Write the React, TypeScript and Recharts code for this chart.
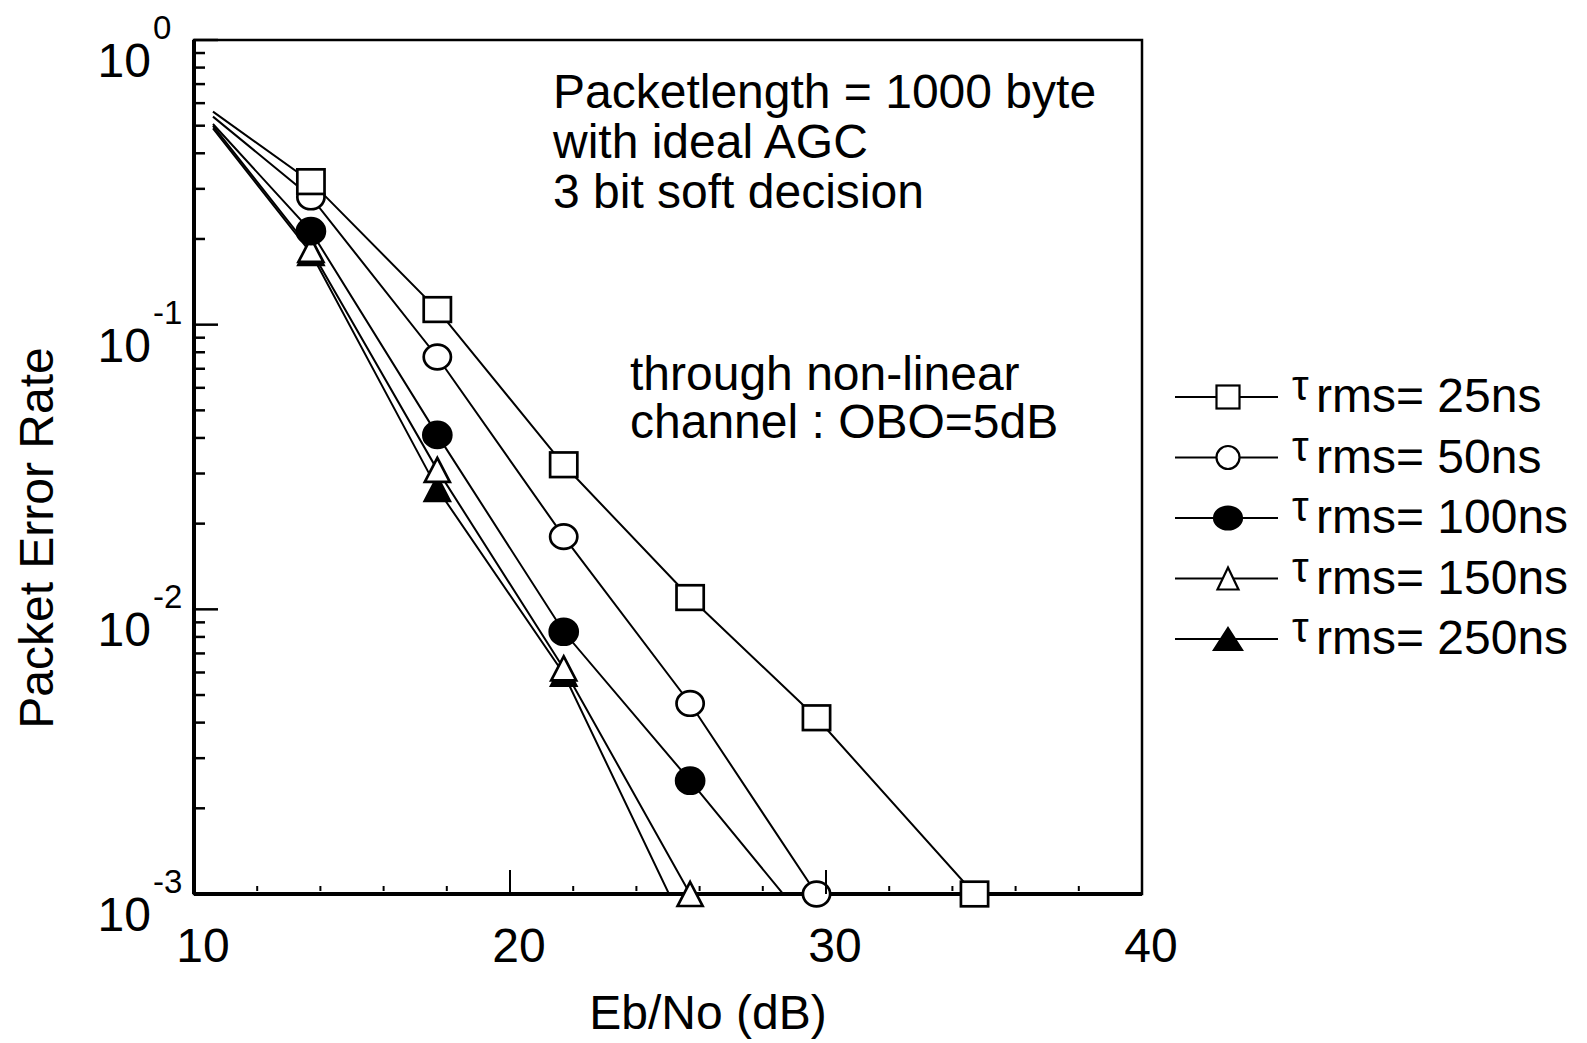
import React from 'react';
import { LineChart, Line, XAxis, YAxis, Legend, ReferenceArea } from 'recharts';

const FONT = '"Liberation Sans", Arial, Helvetica, sans-serif';

const Y_MIN = 0.001;
const Y_MAX = 1;
const X_MIN = 10;
const X_MAX = 40;

// layout (chart coordinates)
const Y_AXIS_WIDTH = 186;
const FS = 48;

// series names (tau_rms) and marker kinds
const seriesNames = ['25ns', '50ns', '100ns', '150ns', '250ns'];
const markerKinds = ['square', 'circle', 'filledCircle', 'triangle', 'filledTriangle'];

// Eb/No (dB) and packet error rate
const ebno25 = [10.6, 13.7, 17.7, 21.7, 25.7, 29.7, 34.7];
const per25 = [0.56, 0.318, 0.113, 0.0322, 0.011, 0.00416, 0.001];
const ebno50 = [10.6, 13.7, 17.7, 21.7, 25.7, 29.7];
const per50 = [0.538, 0.281, 0.077, 0.018, 0.00467, 0.001];
const ebno100 = [10.6, 13.7, 17.7, 21.7, 25.7, 29.7];
const per100 = [0.507, 0.213, 0.041, 0.00834, 0.0025, 0.00072];
const ebno150 = [10.6, 13.7, 17.7, 21.7, 25.7];
const per150 = [0.499, 0.183, 0.0309, 0.0062, 0.001];
const ebno250 = [10.6, 13.7, 17.7, 21.7, 25.7];
const per250 = [0.489, 0.1786, 0.0265, 0.00594, 0.0007];

// ticks
const xTicks = [10, 12, 14, 16, 18, 20, 22, 24, 26, 28, 30, 32, 34, 36, 38, 40];
const xTickLabels = [10, 20, 30, 40];
const xMajorTicks = [20, 30];
const yTicks = [
  0.001, 0.002, 0.003, 0.004, 0.005, 0.006, 0.007, 0.008, 0.009,
  0.01, 0.02, 0.03, 0.04, 0.05, 0.06, 0.07, 0.08, 0.09,
  0.1, 0.2, 0.3, 0.4, 0.5, 0.6, 0.7, 0.8, 0.9,
  1,
];

// annotation texts
const notesTop = ['Packetlength = 1000 byte', 'with ideal AGC', '3 bit soft decision'];
const notesChannel = ['through non-linear', 'channel : OBO=5dB'];
const xTitle = 'Eb/No (dB)';
const yTitle = 'Packet Error Rate';

const xs = [ebno25, ebno50, ebno100, ebno150, ebno250];
const ys = [per25, per50, per100, per150, per250];

const series = seriesNames.map((name, si) => ({
  name,
  kind: markerKinds[si],
  data: xs[si].map((x, i) => ({ x, y: ys[si][i] })),
}));

type Kind = string;

function Marker({ kind, cx, cy, legend }: { kind: Kind; cx: number; cy: number; legend?: boolean }) {
  const sw = legend ? 2.2 : 2.7;
  if (kind === 'square') {
    const hw = legend ? 11.5 : 13.6;
    const hh = legend ? 11.5 : 12.3;
    return <rect x={cx - hw} y={cy - hh} width={hw * 2} height={hh * 2} fill="#fff" stroke="#000" strokeWidth={sw} />;
  }
  if (kind === 'circle') {
    const rx = legend ? 11.5 : 13.6;
    const ry = legend ? 11.5 : 12.3;
    return <ellipse cx={cx} cy={cy} rx={rx} ry={ry} fill="#fff" stroke="#000" strokeWidth={sw} />;
  }
  if (kind === 'filledCircle') {
    const rx = 14;
    const ry = legend ? 11.5 : 13;
    return <ellipse cx={cx} cy={cy} rx={rx} ry={ry} fill="#000" stroke="#000" strokeWidth={sw} />;
  }
  if (kind === 'triangle') {
    const hw = legend ? 10.5 : 12.5;
    const hh = legend ? 11 : 12;
    return (
      <polygon
        points={`${cx},${cy - hh} ${cx + hw},${cy + hh} ${cx - hw},${cy + hh}`}
        fill="#fff"
        stroke="#000"
        strokeWidth={sw}
      />
    );
  }
  const hw = legend ? 14 : 12.5;
  const hh = legend ? 11 : 12;
  return (
    <polygon
      points={`${cx},${cy - hh} ${cx + hw},${cy + hh} ${cx - hw},${cy + hh}`}
      fill="#000"
      stroke="#000"
      strokeWidth={sw}
    />
  );
}

const makeDot = (kind: Kind) => (props: any) => {
  const { cx, cy, index } = props;
  if (cx == null || cy == null || isNaN(cx) || isNaN(cy)) return <g key={`${kind}-e-${index}`} />;
  return <Marker key={`${kind}-${index}`} kind={kind} cx={cx} cy={cy} />;
};

const YTick = (props: any) => {
  const { y, payload } = props;
  const x = Y_AXIS_WIDTH;
  const v = Number(payload.value);
  const e = Math.round(Math.log10(v));
  const major = Math.abs(v / Math.pow(10, e) - 1) < 1e-6;
  return (
    <g>
      <line x1={x} y1={y} x2={x + (major ? 24 : 11)} y2={y} stroke="#000" strokeWidth={2.5} />
      {major && (
        <g>
          <text x={x - 43} y={y + 37} textAnchor="end" fontSize={FS} fontFamily={FONT} fill="#000">
            10
          </text>
          <text x={x - 41} y={y - 1} textAnchor="start" fontSize={33} fontFamily={FONT} fill="#000">
            {String(e)}
          </text>
        </g>
      )}
    </g>
  );
};

const XTick = (props: any) => {
  const { x, y, payload } = props;
  const v = Number(payload.value);
  const labeled = xTickLabels.includes(v);
  const major = xMajorTicks.includes(v);
  const edge = v === X_MIN || v === X_MAX;
  return (
    <g>
      {!edge && (
        <line x1={x} x2={x} y1={y - (major ? 0 : 3)} y2={y - (major ? 24 : 8)} stroke="#000" strokeWidth={2} />
      )}
      {labeled && (
        <text x={x + 9} y={y + 68} textAnchor="middle" fontSize={FS} fontFamily={FONT} fill="#000">
          {String(v)}
        </text>
      )}
    </g>
  );
};

const LegendContent = () => (
  <svg width={430} height={310} style={{ display: 'block', overflow: 'visible' }}>
    {series.map((s, i) => {
      const cy = 37 + i * 60.5;
      return (
        <g key={s.name}>
          <line x1={15} x2={118} y1={cy} y2={cy} stroke="#000" strokeWidth={2} />
          <Marker kind={s.kind} cx={68} cy={cy} legend />
          <text x={132} y={cy + 3} fontSize={42} fontFamily={FONT} fill="#000">
            τ
          </text>
          <text x={156} y={cy + 15} fontSize={FS} fontFamily={FONT} fill="#000">
            {`rms= ${s.name}`}
          </text>
        </g>
      );
    })}
  </svg>
);

export default function App() {
  const markerSeries = [...series].reverse();
  return (
    <div style={{ width: 1571, height: 1035, background: '#fff', fontFamily: FONT }}>
      <LineChart width={1571} height={1035} margin={{ top: 32, right: 437, bottom: 49, left: 0 }}>
        <ReferenceArea
          xAxisId={0}
          yAxisId="y"
          x1={X_MIN}
          x2={X_MAX}
          y1={Y_MIN}
          y2={Y_MAX}
          fill="none"
          fillOpacity={0}
          stroke="#000"
          strokeWidth={2.5}
          strokeOpacity={1}
        />
        <XAxis
          xAxisId={0}
          dataKey="x"
          type="number"
          domain={[X_MIN, X_MAX]}
          ticks={xTicks}
          interval={0}
          tickSize={0}
          tickMargin={0}
          tickLine={false}
          axisLine={{ stroke: '#000', strokeWidth: 4 }}
          tick={<XTick />}
          height={100}
        />
        <YAxis
          yAxisId="y"
          type="number"
          scale="log"
          domain={[Y_MIN, Y_MAX]}
          allowDataOverflow
          ticks={yTicks}
          interval={0}
          tickSize={0}
          tickMargin={0}
          tickLine={false}
          axisLine={{ stroke: '#000', strokeWidth: 4 }}
          tick={<YTick />}
          width={Y_AXIS_WIDTH}
        />
        <YAxis
          yAxisId="m"
          orientation="right"
          type="number"
          scale="log"
          domain={[Y_MIN, Y_MAX]}
          width={0}
          hide
        />
        {series.map((s) => (
          <Line
            key={`line-${s.name}`}
            xAxisId={0}
            yAxisId="y"
            data={s.data}
            dataKey="y"
            name={s.name}
            type="linear"
            stroke="#000"
            strokeWidth={2}
            dot={false}
            activeDot={false}
            isAnimationActive={false}
          />
        ))}
        {markerSeries.map((s) => (
          <Line
            key={`marks-${s.name}`}
            xAxisId={0}
            yAxisId="m"
            data={s.data.filter((p, i) => i > 0 && p.y >= Y_MIN)}
            dataKey="y"
            type="linear"
            stroke="none"
            legendType="none"
            dot={makeDot(s.kind)}
            activeDot={false}
            isAnimationActive={false}
            zIndex={600}
          />
        ))}
        <Legend
          layout="vertical"
          align="center"
          verticalAlign="middle"
          wrapperStyle={{ left: 1152, top: 352, width: 430, height: 310 }}
          content={<LegendContent />}
        />
        {notesTop.map((t, i) => (
          <text key={t} x={545} y={100 + i * 50} fontSize={FS} fontFamily={FONT} fill="#000">
            {t}
          </text>
        ))}
        {notesChannel.map((t, i) => (
          <text key={t} x={622} y={382 + i * 47.5} fontSize={FS} fontFamily={FONT} fill="#000">
            {t}
          </text>
        ))}
        <text x={700} y={1021} textAnchor="middle" fontSize={FS} fontFamily={FONT} fill="#000">
          {xTitle}
        </text>
        <text
          x={45}
          y={530}
          textAnchor="middle"
          fontSize={FS}
          fontFamily={FONT}
          fill="#000"
          transform="rotate(-90 45 530)"
        >
          {yTitle}
        </text>
      </LineChart>
    </div>
  );
}
